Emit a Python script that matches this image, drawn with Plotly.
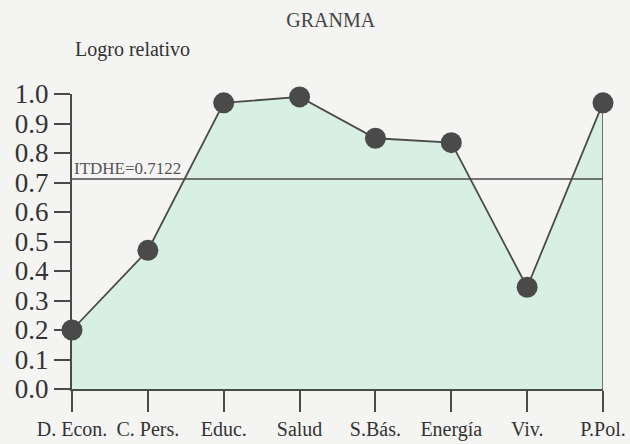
import plotly.graph_objects as go

# Relative achievement per dimension, Granma province
CATEGORIES = ["D. Econ.", "C. Pers.", "Educ.", "Salud", "S.Bás.", "Energía", "Viv.", "P.Pol."]
LOGRO = [0.20, 0.47, 0.97, 0.99, 0.85, 0.835, 0.345, 0.97]
ITDHE = 0.7122
Y_TICKS = [0.0, 0.1, 0.2, 0.3, 0.4, 0.5, 0.6, 0.7, 0.8, 0.9, 1.0]

INK = "#4a4a4a"
FILL = "#d8f0e3"
PAPER = "#f4f4f2"
SERIF = "Liberation Serif, Times New Roman, serif"

x_idx = list(range(len(CATEGORIES)))

fig = go.Figure()
fig.add_trace(go.Scatter(
    x=x_idx, y=LOGRO, mode="lines+markers",
    fill="tozeroy", fillcolor=FILL,
    line=dict(color=INK, width=1.8),
    marker=dict(color=INK, size=21),
    cliponaxis=False, showlegend=False,
))

# ITDHE reference line and the closing edge at the last category
fig.add_shape(type="line", xref="x", yref="y", x0=0, x1=x_idx[-1], y0=ITDHE, y1=ITDHE,
              line=dict(color=INK, width=1.5))
fig.add_shape(type="line", xref="x", yref="y", x0=x_idx[-1], x1=x_idx[-1], y0=0, y1=LOGRO[-1],
              line=dict(color=INK, width=1.5))

fig.add_annotation(x=0, y=ITDHE, xref="x", yref="y", text=f"ITDHE={ITDHE}",
                   showarrow=False, xanchor="left", yanchor="bottom", xshift=0, yshift=-1,
                   font=dict(family=SERIF, size=17, color="#555"))
fig.add_annotation(x=0, y=1.15, xref="paper", yref="paper", text="Logro relativo",
                   showarrow=False, xanchor="left", yanchor="middle", xshift=1,
                   font=dict(family=SERIF, size=20, color="#333"))

fig.update_layout(
    width=630, height=444,
    margin=dict(l=72, r=27, t=94, b=55),
    paper_bgcolor=PAPER, plot_bgcolor=PAPER,
    title=dict(text="GRANMA", x=0.525, xanchor="center", y=0.955, yanchor="middle",
               font=dict(family=SERIF, size=20, color="#444")),
    font=dict(family=SERIF, color="#333"),
)
fig.update_xaxes(
    range=[0, x_idx[-1]], tickmode="array", tickvals=x_idx, ticktext=CATEGORIES,
    showgrid=False, zeroline=False, showline=True, linecolor=INK, linewidth=2,
    ticks="outside", ticklen=21, tickwidth=2, tickcolor=INK, automargin=False,
    tickfont=dict(family=SERIF, size=20, color="#333"),
)
fig.update_yaxes(
    range=[0, 1.0], tickmode="array", tickvals=Y_TICKS,
    ticktext=[f"{v:.1f}" for v in Y_TICKS],
    showgrid=False, zeroline=False, showline=True, linecolor=INK, linewidth=2,
    ticks="outside", ticklen=16, tickwidth=2, tickcolor=INK, automargin=False,
    tickfont=dict(family=SERIF, size=27, color="#333"),
)

fig.write_html("out.html", config={"displayModeBar": False},
               post_script="document.body.style.margin='0';")
